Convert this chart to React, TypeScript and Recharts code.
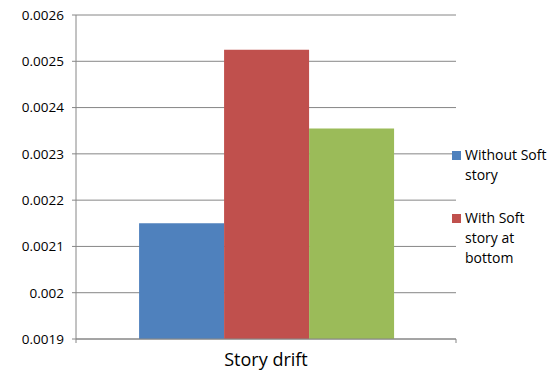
import React from "react";
import { BarChart, Bar, XAxis, YAxis, CartesianGrid } from "recharts";

const categories = ["Story drift"];
const withoutSoftStory = [0.00215];
const softStoryBottom = [0.002525];
const softStoryOther = [0.002355];
const yTicks = [0.0019, 0.002, 0.0021, 0.0022, 0.0023, 0.0024, 0.0025, 0.0026];

const legendItems = [
  { label: ["Without Soft", "story"], color: "#4F81BD" },
  { label: ["With Soft", "story at", "bottom"], color: "#C0504D" },
];

const AXIS = "#868686";
const FONT = "'Open Sans', sans-serif";

const data = categories.map((c, i) => ({
  label: c,
  without: withoutSoftStory[i],
  bottom: softStoryBottom[i],
  other: softStoryOther[i],
}));

function fmt(v: number) {
  return Number(v.toFixed(4)).toString();
}

function CategoryTick(props: any) {
  const { x, y, payload } = props;
  const half = payload?.offset ?? 0;
  return (
    <g>
      <line x1={x - half} x2={x - half} y1={y - 8} y2={y - 4} stroke={AXIS} />
      <line x1={x + half} x2={x + half} y1={y - 8} y2={y - 4} stroke={AXIS} />
      <text x={x} y={y + 19} textAnchor="middle" fontSize={18} fill="#000" fontFamily={FONT}>
        {payload.value}
      </text>
    </g>
  );
}

// legend sits to the right of the plot, only the first two series are listed
function SideLegend() {
  return (
    <div
      style={{
        position: "absolute",
        left: 452,
        top: 145,
        width: 100,
        fontFamily: FONT,
        fontSize: 14,
        color: "#000",
        lineHeight: "20px",
      }}
    >
      {legendItems.map((it, i) => (
        <div key={i} style={{ position: "relative", paddingLeft: 13, marginBottom: i === 0 ? 23 : 0 }}>
          <span
            style={{
              position: "absolute",
              left: 0,
              top: 6,
              width: 9,
              height: 9,
              background: it.color,
            }}
          />
          {it.label.map((l, j) => (
            <div key={j} style={{ whiteSpace: "nowrap" }}>{l}</div>
          ))}
        </div>
      ))}
    </div>
  );
}

export default function App() {
  return (
    <div style={{ position: "absolute", left: 0, top: 0, width: 552, height: 375, background: "#fff" }}>
      <BarChart
        width={552}
        height={375}
        data={data}
        margin={{ top: 15, right: 96, bottom: 0, left: 0 }}
        barCategoryGap="16.6%"
        barGap={0}
      >
        <CartesianGrid vertical={false} stroke={AXIS} />
        <XAxis
          dataKey="label"
          axisLine={{ stroke: AXIS }}
          tickLine={false}
          tick={<CategoryTick />}
          height={36}
        />
        <YAxis
          width={76}
          domain={[0.0019, 0.0026]}
          ticks={yTicks}
          tickFormatter={fmt}
          axisLine={{ stroke: AXIS }}
          tickLine={{ stroke: AXIS }}
          tickSize={4}
          tickMargin={8}
          tick={{ fontSize: 13.5, fill: "#000", fontFamily: FONT }}
          allowDataOverflow
        />
        <Bar dataKey="without" fill="#4F81BD" isAnimationActive={false} />
        <Bar dataKey="bottom" fill="#C0504D" isAnimationActive={false} />
        <Bar dataKey="other" fill="#9BBB59" isAnimationActive={false} />
      </BarChart>
      <SideLegend />
    </div>
  );
}
